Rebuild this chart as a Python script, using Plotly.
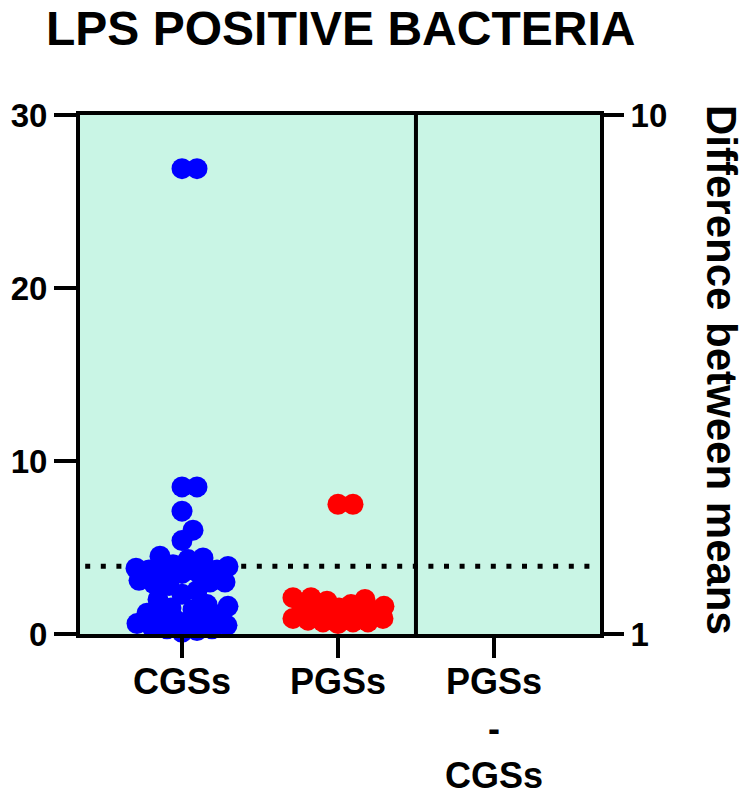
import plotly.graph_objects as go

# ---------------- data ----------------
categories = ["CGSs", "PGSs", "PGSs<br>-<br>CGSs"]

cgss_values = [26.9, 26.9, 8.5, 8.5, 7.1, 6.0, 5.4,
               4.5, 4.4, 4.3, 4.0, 3.9,
               3.7, 3.7, 3.6, 3.5, 3.6, 3.8,
               3.0, 2.9, 3.1, 2.8, 3.0,
               2.5, 2.3, 2.0,
               1.6, 1.5, 1.7, 1.4,
               1.2, 1.1, 1.0,
               0.8, 0.7, 0.9, 0.6, 0.5,
               0.3, 0.2, 0.4, 0.1, 0.3]

pgss_values = [7.5, 7.5,
               2.1, 2.1, 2.0, 1.9,
               1.6, 1.7, 1.5, 1.4,
               1.3, 1.2, 1.3, 1.1,
               1.0, 0.9, 0.7, 0.7,
               0.6, 0.7, 0.8, 0.9]

left_ticks = [0, 10, 20, 30]
right_ticks = [1, 10]

# ---------------- helpers ----------------
PX_Y = 519 / 30.0      # pixels per y unit
PX_X = 156.0           # pixels per category


def swarm(vals, min_d=15.0, max_half=46):
    placed = []
    offs = [0.0] * len(vals)
    order = sorted(range(len(vals)), key=lambda i: vals[i])
    for i in order:
        y = vals[i] * PX_Y
        best = None
        best_score = -1
        best_fallback = 0
        cands = [0]
        for k in range(1, max_half + 1):
            cands += [k, -k]
        for c in cands:
            dmin = min([((c - px) ** 2 + (y - py) ** 2) ** 0.5 for px, py in placed] or [1e9])
            if dmin >= min_d:
                best = c
                break
            if dmin > best_score:
                best_score = dmin
                best_fallback = c
        if best is None:
            best = best_fallback
        placed.append((best, y))
        offs[i] = best / PX_X
    return offs


def mean(v):
    return sum(v) / len(v)


cg_x = [0 + o for o in swarm(cgss_values)]
pg_x = [1 + o for o in swarm(pgss_values)]
cg_mean = mean(cgss_values)
pg_mean = mean(pgss_values)

FONT = "Liberation Sans, Arial, sans-serif"
BG = "#C9F5E5"

fig = go.Figure()

fig.add_trace(go.Scatter(x=cg_x, y=cgss_values, mode="markers",
                         marker=dict(color="#0000FF", size=21, line=dict(width=0)),
                         cliponaxis=False, showlegend=False, hoverinfo="y"))
fig.add_trace(go.Scatter(x=pg_x, y=pgss_values, mode="markers",
                         marker=dict(color="#FF0000", size=21, line=dict(width=0)),
                         cliponaxis=False, showlegend=False, hoverinfo="y"))

# mean lines
fig.add_trace(go.Scatter(x=[-0.3, 0.34], y=[cg_mean, cg_mean], mode="lines",
                         line=dict(color="#0000FF", width=4), showlegend=False, hoverinfo="skip"))
fig.add_trace(go.Scatter(x=[1 - 0.33, 1 + 0.35], y=[pg_mean, pg_mean], mode="lines",
                         line=dict(color="#FF0000", width=4), showlegend=False, hoverinfo="skip"))

# dummy trace for right axis
fig.add_trace(go.Scatter(x=[2], y=[None], yaxis="y2", mode="markers",
                         showlegend=False, hoverinfo="skip"))

# dotted reference line at CGSs mean
fig.add_shape(type="line", xref="x domain", x0=0.01, x1=1, yref="y", y0=cg_mean, y1=cg_mean,
              line=dict(color="black", width=5, dash="5px,10.6px"), layer="below")
# divider between groups and difference column
fig.add_shape(type="line", xref="x", x0=1.5, x1=1.5, yref="paper", y0=0, y1=1,
              line=dict(color="black", width=4))

fig.update_layout(
    width=750, height=792,
    margin=dict(l=80, r=150, t=115, b=158, autoexpand=False),
    paper_bgcolor="white", plot_bgcolor=BG,
    font=dict(family=FONT, color="black"),
    xaxis=dict(range=[-0.654, 2.68], tickvals=[0, 1, 2], showticklabels=False,
               ticks="outside", ticklen=20, tickwidth=4, tickcolor="black",
               showline=True, linewidth=4, linecolor="black", mirror=True,
               showgrid=False, zeroline=False, automargin=False),
    yaxis=dict(range=[0, 30], tickvals=left_ticks,
               ticks="outside", ticklen=22, tickwidth=4, tickcolor="black",
               showline=True, linewidth=4, linecolor="black",
               showgrid=False, zeroline=False, automargin=False,
               tickfont=dict(family=FONT, size=33, color="black", weight="bold")),
    yaxis2=dict(type="log", range=[0, 1], tickvals=right_ticks, ticktext=["1", "10"],
                overlaying="y", side="right",
                ticks="outside", ticklen=20, tickwidth=4, tickcolor="black",
                showline=True, linewidth=4, linecolor="black",
                showgrid=False, zeroline=False, automargin=False,
                tickfont=dict(family=FONT, size=33, color="black", weight="bold")),
)

# category labels
for i, lab in enumerate(categories):
    fig.add_annotation(text="<b>" + lab + "</b>", xref="x", yref="paper", x=i, y=0,
                       xanchor="center", yanchor="top", yshift=-25, showarrow=False,
                       font=dict(family=FONT, size=36, color="black"))

fig.add_annotation(text="<b>LPS POSITIVE BACTERIA</b>", xref="paper", yref="paper",
                   x=0.5, y=(634 - 28) / 519.0, xanchor="center", yanchor="middle",
                   showarrow=False, font=dict(family=FONT, size=48, color="black"))
fig.add_annotation(text="<b>Difference between means</b>", xref="paper", yref="paper",
                   x=(722 - 80) / 520.0, y=(634 - 370) / 519.0, xanchor="center", yanchor="middle",
                   textangle=90, showarrow=False, font=dict(family=FONT, size=42, color="black"))

fig.write_html("out.html", config={"displayModeBar": False},
               post_script="document.body.style.margin='0px';document.body.style.overflow='hidden';")
